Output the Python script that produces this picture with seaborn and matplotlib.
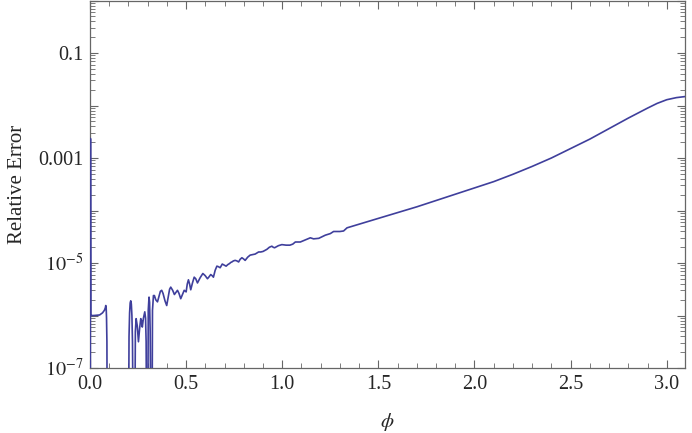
import numpy as np
import pandas as pd
import matplotlib
matplotlib.use("Agg")
import matplotlib.pyplot as plt
import matplotlib.ticker as mticker
import seaborn as sns

# ---- data (phi, log10 of relative error) ----
phi = [0.0, 0.0015, 0.0025, 0.004, 0.02, 0.05, 0.065, 0.075, 0.080, 0.082,
       0.084, 0.086, 0.088, 0.090,
       0.200, 0.203, 0.206, 0.209, 0.212, 0.215, 0.218, 0.221, 0.226, 0.232,
       0.236, 0.240, 0.246, 0.252, 0.258, 0.264, 0.268, 0.272, 0.278, 0.285,
       0.289, 0.292, 0.295, 0.300, 0.303, 0.307, 0.310, 0.313, 0.318, 0.322,
       0.325, 0.330, 0.335, 0.342, 0.351, 0.360, 0.366, 0.373, 0.380, 0.390,
       0.399, 0.408, 0.414, 0.420, 0.430, 0.439, 0.447, 0.455, 0.463, 0.472,
       0.481, 0.490, 0.500, 0.506, 0.512, 0.518, 0.524, 0.533, 0.542, 0.550,
       0.559, 0.573, 0.587, 0.599, 0.611, 0.620, 0.628, 0.635, 0.642, 0.651,
       0.660, 0.668, 0.677, 0.683, 0.688, 0.698, 0.708, 0.717, 0.726, 0.732,
       0.738, 0.746, 0.755, 0.764, 0.773, 0.781, 0.790, 0.798, 0.807, 0.820,
       0.833, 0.846, 0.859, 0.868, 0.877, 0.888, 0.900, 0.910, 0.920, 0.933,
       0.946, 0.953, 0.960, 0.980, 0.998, 1.020, 1.040, 1.055, 1.068, 1.094,
       1.120, 1.146, 1.163, 1.190, 1.224, 1.250, 1.267, 1.300, 1.319, 1.337,
       1.400, 1.500, 1.600, 1.700, 1.800, 1.900, 2.000, 2.100, 2.200, 2.300,
       2.400, 2.500, 2.600, 2.700, 2.800, 2.900, 2.950, 3.000, 3.050, 3.095]
log10_error = [-9.0, -9.0, -2.63, -6.0, -6.0, -5.99, -5.95, -5.90, -5.85, -5.81,
               -5.84, -6.05, -6.5, -9.0,
               -9.0, -6.4, -5.95, -5.76, -5.72, -5.78, -6.0, -6.5, -9.0, -9.0,
               -6.3, -6.06, -6.2, -6.50, -6.25, -6.06, -6.10, -6.22, -6.05, -5.93,
               -6.05, -6.5, -9.0, -9.0, -5.9, -5.65, -5.75, -6.3, -9.0, -9.0,
               -5.9, -5.62, -5.62, -5.70, -5.74, -5.62, -5.54, -5.52, -5.58, -5.72,
               -5.81, -5.62, -5.50, -5.46, -5.52, -5.60, -5.56, -5.52, -5.58, -5.68,
               -5.60, -5.52, -5.55, -5.40, -5.32, -5.40, -5.51, -5.38, -5.27, -5.30,
               -5.38, -5.28, -5.20, -5.24, -5.30, -5.26, -5.22, -5.24, -5.27, -5.14,
               -5.06, -5.07, -5.09, -5.05, -5.02, -5.04, -5.06, -5.03, -5.01, -4.99,
               -4.98, -4.96, -4.95, -4.96, -4.98, -4.93, -4.90, -4.92, -4.95, -4.89,
               -4.85, -4.84, -4.83, -4.81, -4.79, -4.79, -4.78, -4.76, -4.74, -4.70,
               -4.68, -4.70, -4.71, -4.67, -4.65, -4.66, -4.66, -4.64, -4.60, -4.60,
               -4.56, -4.52, -4.54, -4.53, -4.47, -4.44, -4.40, -4.40, -4.39, -4.33,
               -4.26, -4.15, -4.04, -3.93, -3.81, -3.69, -3.57, -3.45, -3.31, -3.16,
               -3.00, -2.82, -2.64, -2.44, -2.24, -2.05, -1.96, -1.89, -1.85, -1.83]

ytick_values = [1e-1, 1e-3, 1e-5, 1e-7]
ytick_labels = ["0.1", "0.001", r"$10^{-5}$", r"$10^{-7}$"]
xtick_values = [0.0, 0.5, 1.0, 1.5, 2.0, 2.5, 3.0]
xtick_labels = ["0.0", "0.5", "1.0", "1.5", "2.0", "2.5", "3.0"]

df = pd.DataFrame({"phi": phi, "err": np.power(10.0, log10_error)})

sns.set_style("ticks")
plt.rcParams["font.family"] = ["Liberation Serif", "DejaVu Serif"]
plt.rcParams["mathtext.fontset"] = "stix"

fig = plt.figure(figsize=(6.92, 4.33), dpi=100)
ax = fig.add_axes([90 / 692, 1 - 368 / 433, (685 - 90) / 692, 367.5 / 433])

sns.lineplot(data=df, x="phi", y="err", ax=ax, color="#3f3f9c", linewidth=1.2,
             estimator=None, sort=False, zorder=4)

ax.set_yscale("log")
ax.set_ylim(1e-7, 1.0)
ax.set_xlim(0.0, 3.095)

ax.set_xticks(xtick_values)
ax.set_xticklabels(xtick_labels)
ax.xaxis.set_minor_locator(mticker.MultipleLocator(0.1))

decades = [1e-7, 1e-6, 1e-5, 1e-4, 1e-3, 1e-2, 1e-1, 1.0]
ax.yaxis.set_major_locator(mticker.FixedLocator(decades))
labels = []
for v in decades:
    lab = ""
    for tv, tl in zip(ytick_values, ytick_labels):
        if abs(np.log10(tv) - np.log10(v)) < 1e-6:
            lab = tl
    labels.append(lab)
ax.set_yticklabels(labels)
ax.yaxis.set_minor_locator(mticker.LogLocator(base=10, subs=np.arange(2, 10), numticks=20))
ax.yaxis.set_minor_formatter(mticker.NullFormatter())

for side in ["left", "right", "top", "bottom"]:
    ax.spines[side].set_visible(True)
    ax.spines[side].set_color("#666666")
    ax.spines[side].set_linewidth(0.9)

ax.tick_params(which="both", direction="in", top=True, right=True,
               color="#666666", labelsize=14.5, pad=5)
ax.tick_params(which="major", length=6, width=0.8)
ax.tick_params(which="minor", length=3.5, width=0.6)

ax.set_xlabel(r"$\phi$", fontsize=15, labelpad=12)
ax.set_ylabel("Relative Error", fontsize=15, labelpad=8)

fig.savefig("out.png", dpi=100)
